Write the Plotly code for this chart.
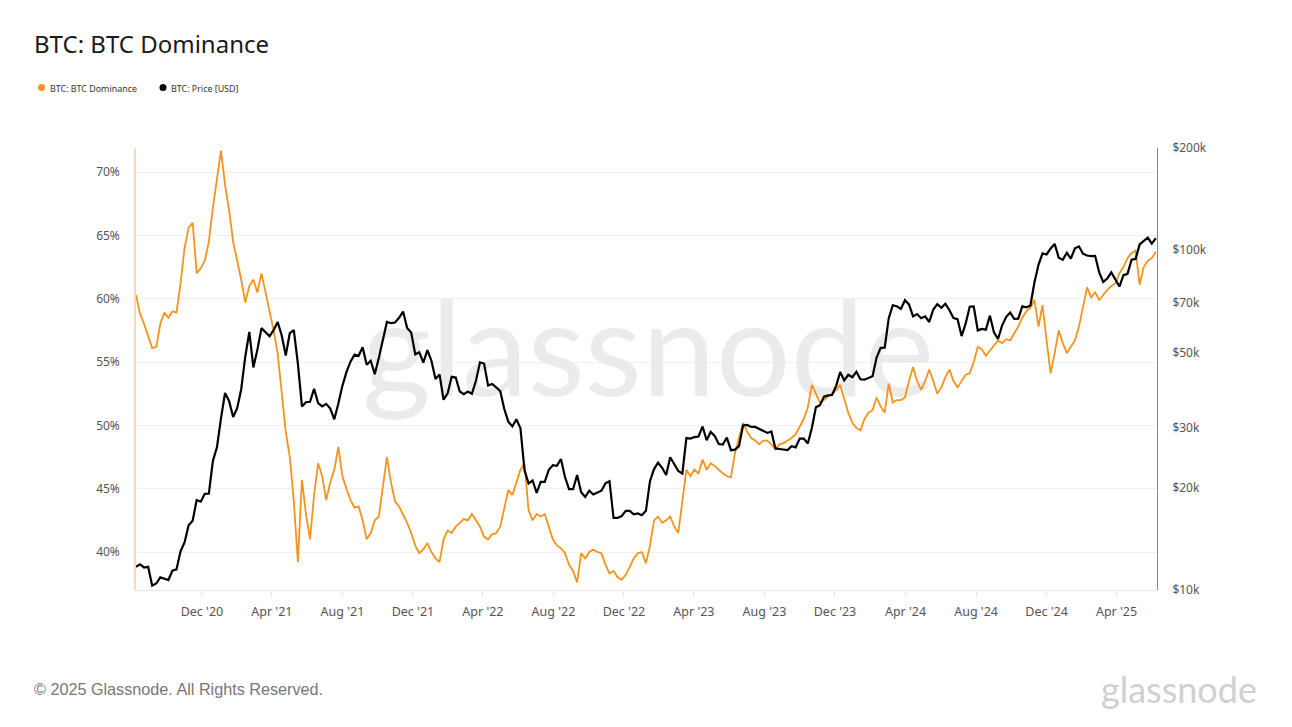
import pandas as pd
import plotly.graph_objects as go

# Weekly sampling dates (Sundays), Aug 2020 - Jun 2025
dates = pd.date_range("2020-08-09", periods=253, freq="7D")

# BTC price in USD thousands (weekly)
price_k = [
    # 2020 Aug 9 - Dec 27
    11.7, 11.9, 11.65, 11.7, 10.3, 10.45, 10.9, 10.8, 10.7, 11.4, 11.5, 13.0, 13.8, 15.5, 16.0, 18.4, 18.2,
    19.2, 19.2, 24.0, 26.3,
    # 2021
    32.0, 38.0, 36.0, 32.3, 34.3, 39.0, 48.6, 57.5, 45.2, 51.0, 59.0, 57.5, 55.8, 58.2, 61.5, 56.2, 49.0,
    57.0, 58.2, 46.4, 34.7, 35.7, 35.8, 39.1, 35.5, 34.7, 35.3, 34.2, 31.8, 35.4, 39.9, 43.8, 47.0, 49.3,
    48.9, 51.8, 46.0, 47.3, 43.2, 48.2, 55.0, 61.5, 61.0, 61.3, 63.3, 66.0, 59.0, 57.3, 49.4, 50.1, 46.7,
    50.8,
    # 2022
    47.3, 41.8, 43.1, 36.3, 37.9, 42.4, 42.2, 38.4, 37.7, 38.4, 37.8, 41.3, 46.8, 46.4, 40.0, 40.4, 39.5,
    38.5, 34.1, 31.3, 30.3, 31.8, 29.9, 22.5, 20.6, 21.0, 19.3, 20.8, 20.8, 22.6, 23.3, 23.2, 24.3, 21.5,
    19.8, 19.8, 21.8, 19.4, 18.8, 19.6, 19.1, 19.3, 19.6, 20.6, 20.9, 16.3, 16.3, 16.5, 17.1, 17.1, 16.7,
    16.8,
    # 2023
    16.6, 17.1, 20.9, 22.7, 23.7, 22.9, 21.8, 24.6, 23.5, 22.4, 22.0, 28.0, 27.9, 28.2, 28.3, 30.3, 27.6,
    29.2, 28.4, 26.9, 26.8, 28.1, 25.8, 25.9, 26.5, 30.5, 30.6, 30.2, 30.2, 29.8, 29.3, 29.0, 29.3, 26.1,
    26.0, 25.9, 25.8, 26.5, 26.3, 27.9, 27.9, 27.0, 30.0, 34.5, 35.0, 37.1, 37.4, 37.5, 39.9, 43.8, 41.4,
    43.0, 42.3,
    # 2024
    43.9, 41.7, 41.6, 42.0, 42.6, 48.3, 51.6, 51.7, 63.1, 68.9, 68.4, 67.2, 71.3, 69.3, 63.9, 64.9, 63.1,
    63.9, 61.5, 66.9, 69.4, 67.7, 69.6, 66.6, 63.2, 62.7, 55.9, 60.8, 68.2, 68.3, 58.1, 58.7, 58.4, 64.2,
    57.3, 54.8, 60.0, 63.6, 65.6, 62.8, 62.9, 68.4, 67.9, 68.8, 80.4, 90.6, 97.9, 97.2, 101.2, 104.4, 95.1,
    93.7,
    # 2025
    98.3, 94.5, 101.3, 102.6, 97.7, 96.5, 96.1, 96.3, 86.1, 80.7, 82.6, 86.1, 82.3, 78.2, 84.5, 85.2, 93.8,
    94.3, 104.1, 106.4, 109.0, 104.6, 108.5,
]

# BTC dominance in % (weekly)
dominance = [
    60.3, 58.8, 58.0, 57.0, 56.1, 56.2, 58.0, 58.9, 58.5, 59.0, 58.9, 61.2, 64.0, 65.6, 66.0, 62.0, 62.4,
    63.0, 64.5, 67.2, 69.5, 71.7, 69.0, 67.0, 64.5, 63.0, 61.5, 59.7, 61.0, 61.5, 60.5, 62.0, 60.5, 58.9,
    57.5, 55.7, 52.5, 49.5, 47.5, 44.0, 39.2, 45.7, 43.0, 41.0, 44.5, 47.0, 46.0, 44.1, 45.5, 46.5, 48.3,
    46.0, 45.0, 44.1, 43.5, 43.6, 42.5, 41.0, 41.5, 42.5, 42.8, 45.0, 47.5, 45.5, 44.0, 43.6, 43.0, 42.3,
    41.5, 40.5, 39.9, 40.2, 40.7, 40.0, 39.5, 39.2, 41.0, 41.7, 41.5, 42.0, 42.3, 42.6, 42.5, 43.0, 42.5,
    42.0, 41.2, 41.0, 41.4, 41.5, 42.0, 43.5, 44.9, 44.5, 45.5, 46.5, 47.0, 43.3, 42.5, 43.0, 42.8, 43.0,
    42.0, 41.0, 40.5, 40.3, 39.9, 39.0, 38.5, 37.6, 39.9, 39.5, 40.0, 40.2, 40.0, 39.9, 39.0, 38.3, 38.5,
    38.0, 37.8, 38.2, 38.8, 39.5, 39.9, 40.0, 39.1, 40.5, 42.5, 42.8, 42.3, 42.5, 42.8, 42.0, 41.5, 44.0,
    46.5, 46.0, 46.5, 46.2, 47.3, 46.5, 47.0, 46.8, 46.5, 46.2, 46.0, 45.9, 47.8, 49.0, 50.2, 49.5, 49.0,
    48.8, 48.5, 48.8, 48.8, 48.5, 48.1, 48.5, 48.6, 48.8, 49.0, 49.3, 49.9, 50.5, 51.4, 53.2, 52.5, 51.8,
    52.0, 52.3, 52.5, 52.8, 53.2, 52.0, 51.0, 50.2, 49.8, 49.6, 50.5, 51.0, 51.2, 52.2, 51.5, 51.0, 53.3,
    51.8, 52.0, 52.0, 52.2, 53.5, 54.6, 53.5, 52.8, 53.5, 54.4, 53.5, 52.5, 53.0, 53.8, 54.4, 53.5, 53.0,
    53.5, 54.0, 54.1, 55.0, 56.2, 56.0, 55.5, 55.9, 56.3, 56.7, 56.5, 56.8, 56.7, 57.2, 57.8, 58.5, 59.0,
    59.3, 59.9, 57.8, 59.5, 56.7, 54.1, 55.7, 57.5, 56.5, 55.7, 56.2, 56.7, 57.8, 59.5, 60.9, 60.1, 60.5,
    59.9, 60.3, 60.7, 61.0, 61.2, 62.0, 62.5, 63.2, 63.6, 63.8, 61.1, 62.5, 63.0, 63.2, 63.7,
]

price = [p * 1000 for p in price_k]

x_tick_vals = ["2020-12-01", "2021-04-01", "2021-08-01", "2021-12-01", "2022-04-01", "2022-08-01",
               "2022-12-01", "2023-04-01", "2023-08-01", "2023-12-01", "2024-04-01", "2024-08-01",
               "2024-12-01", "2025-04-01"]
x_tick_text = ["Dec '20", "Apr '21", "Aug '21", "Dec '21", "Apr '22", "Aug '22", "Dec '22", "Apr '23",
               "Aug '23", "Dec '23", "Apr '24", "Aug '24", "Dec '24", "Apr '25"]
y1_ticks = [40, 45, 50, 55, 60, 65, 70]
y1_text = ["40%", "45%", "50%", "55%", "60%", "65%", "70%"]
y2_ticks = [10000, 20000, 30000, 50000, 70000, 100000, 200000]
y2_text = ["$10k", "$20k", "$30k", "$50k", "$70k", "$100k", "$200k"]

series_names = ["BTC: BTC Dominance", "BTC: Price [USD]"]

ORANGE = "#f7931a"
FONT = "Noto Sans"

# plot area in pixels: left 136, right 1157, top 148, bottom 590
PW, PH = 1021, 442


def px_x(px):
    return (px - 136) / PW


def px_y(py):
    return (590 - py) / PH


fig = go.Figure()

# watermark (behind the lines)
fig.add_trace(go.Scatter(
    x=["2023-01-12"], y=[54.9], mode="text", text=["glassnode"],
    textfont=dict(family="Lato", size=132, color="#ebebeb"),
    hoverinfo="skip", showlegend=False))

fig.add_trace(go.Scatter(
    x=dates, y=dominance, mode="lines", name=series_names[0],
    line=dict(color=ORANGE, width=1.8), showlegend=False))
fig.add_trace(go.Scatter(
    x=dates, y=price, mode="lines", name=series_names[1], yaxis="y2",
    line=dict(color="#000000", width=2.2), showlegend=False))

shapes = []
annotations = [
    dict(text="BTC: BTC Dominance", xref="paper", yref="paper", x=px_x(32), y=px_y(44),
         xanchor="left", yanchor="middle", showarrow=False,
         font=dict(family=FONT, size=24, color="#1a1a1a")),
    dict(text="© 2025 Glassnode. All Rights Reserved.", xref="paper", yref="paper",
         x=px_x(32), y=px_y(689), xanchor="left", yanchor="middle", showarrow=False,
         font=dict(family="Liberation Sans", size=16.2, color="#777777")),
    dict(text="glassnode", xref="paper", yref="paper", x=px_x(1259), y=px_y(689),
         xanchor="right", yanchor="middle", showarrow=False,
         font=dict(family="Lato", size=36, color="#d0d0d0")),
]

# legend drawn as dot + label
for name, color, dot_x in zip(series_names, [ORANGE, "#000000"], [41.5, 163]):
    shapes.append(dict(type="circle", xref="paper", yref="paper",
                       xsizemode="pixel", ysizemode="pixel",
                       xanchor=px_x(dot_x), yanchor=px_y(87.5),
                       x0=-3.5, x1=3.5, y0=-3.5, y1=3.5,
                       fillcolor=color, line=dict(width=0)))
    annotations.append(dict(text=name, xref="paper", yref="paper", x=px_x(dot_x + 6), y=px_y(88),
                            xanchor="left", yanchor="middle", showarrow=False,
                            font=dict(family=FONT, size=8.9, color="#333333")))

fig.update_layout(
    width=1292, height=727,
    margin=dict(l=136, r=135, t=148, b=137),
    paper_bgcolor="white", plot_bgcolor="white",
    font=dict(family=FONT, color="#555555", size=12),
    showlegend=False,
    xaxis=dict(
        range=["2020-08-09", "2025-06-10"], tickvals=x_tick_vals, ticktext=x_tick_text,
        showgrid=False, ticks="outside", ticklen=6, tickcolor="#e3e3e3",
        showline=True, linecolor="#e8e8e8", linewidth=1, zeroline=False,
        ticklabelstandoff=4,
        tickfont=dict(size=12.5, color="#555555")),
    yaxis=dict(
        range=[37.0, 71.9], tickvals=y1_ticks, ticktext=y1_text,
        showgrid=True, gridcolor="#f0f0f0", gridwidth=1, zeroline=False,
        showline=True, linecolor="#f6dcb4", linewidth=1.5, ticks="", ticklabelstandoff=12,
        tickfont=dict(size=12, color="#555555")),
    yaxis2=dict(
        type="log", range=[4, 5.30103], overlaying="y", side="right",
        tickvals=y2_ticks, ticktext=y2_text, showgrid=False, zeroline=False,
        showline=True, linecolor="#888888", linewidth=1, ticks="", ticklabelstandoff=12,
        tickfont=dict(size=12, color="#555555")),
    shapes=shapes,
    annotations=annotations,
)

fig.write_html("out.html", config={"displayModeBar": False},
               post_script="document.body.style.margin='0';document.body.style.overflow='hidden';")
